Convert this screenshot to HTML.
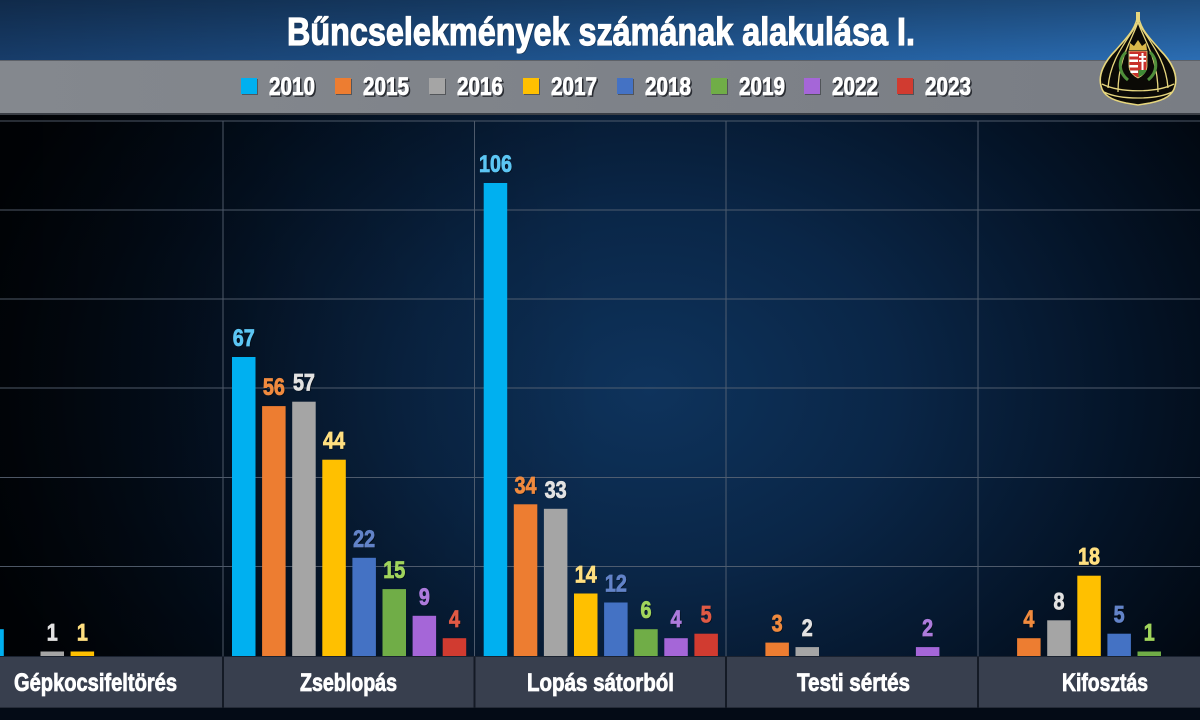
<!DOCTYPE html>
<html>
<head>
<meta charset="utf-8">
<style>
html,body{margin:0;padding:0;background:#020710;}
svg{display:block;}
text{font-family:"Liberation Sans",sans-serif;font-weight:bold;}
</style>
</head>
<body>
<svg width="1200" height="720" viewBox="0 0 1200 720" xmlns="http://www.w3.org/2000/svg">
<defs>
  <radialGradient id="bg" gradientUnits="userSpaceOnUse" cx="650" cy="390" r="700" gradientTransform="translate(650 390) scale(1 0.75) translate(-650 -390)">
    <stop offset="0" stop-color="#0e335c"/>
    <stop offset="0.35" stop-color="#0a2647"/>
    <stop offset="0.7" stop-color="#041326"/>
    <stop offset="1" stop-color="#01050b"/>
  </radialGradient>
  <linearGradient id="leftdark" x1="0" y1="0" x2="1" y2="0">
    <stop offset="0" stop-color="#000" stop-opacity="0.55"/>
    <stop offset="0.25" stop-color="#000" stop-opacity="0.2"/>
    <stop offset="0.5" stop-color="#000" stop-opacity="0"/>
  </linearGradient>
  <linearGradient id="titleH" x1="0" y1="0" x2="1" y2="0">
    <stop offset="0" stop-color="#173c69"/>
    <stop offset="0.5" stop-color="#1f5590"/>
    <stop offset="1" stop-color="#2b6db3"/>
  </linearGradient>
  <linearGradient id="titleV" x1="0" y1="0" x2="0" y2="1">
    <stop offset="0" stop-color="#000" stop-opacity="0.3"/>
    <stop offset="1" stop-color="#000" stop-opacity="0"/>
  </linearGradient>
  <linearGradient id="legendG" x1="0" y1="0" x2="1" y2="0">
    <stop offset="0" stop-color="#84888e"/>
    <stop offset="1" stop-color="#797d84"/>
  </linearGradient>
</defs>

<!-- background -->
<rect x="0" y="0" width="1200" height="720" fill="url(#bg)"/>
<rect x="0" y="114" width="1200" height="606" fill="url(#leftdark)"/>

<!-- title bar -->
<rect x="0" y="0" width="1200" height="60" fill="url(#titleH)"/>
<rect x="0" y="0" width="1200" height="60" fill="url(#titleV)"/>
<text x="288" y="46" font-size="39" fill="#000" fill-opacity="0.4" textLength="628" lengthAdjust="spacingAndGlyphs">Bűncselekmények  számának alakulása  I.</text>
<text x="287" y="45" font-size="39" fill="#ffffff" stroke="#ffffff" stroke-width="1.2" textLength="628" lengthAdjust="spacingAndGlyphs">Bűncselekmények  számának alakulása  I.</text>

<!-- legend bar -->
<rect x="0" y="60" width="1200" height="54" fill="url(#legendG)"/>
<rect x="0" y="60" width="1200" height="1" fill="#5d6168"/>
<rect x="0" y="113" width="1200" height="2" fill="#3a3e45"/>

<g>
  <rect x="242" y="79" width="16" height="16" fill="#000" opacity="0.35"/>
  <rect x="241" y="78" width="16" height="16" fill="#00b0f0"/>
  <rect x="336" y="79" width="16" height="16" fill="#000" opacity="0.35"/>
  <rect x="335" y="78" width="16" height="16" fill="#ed7d31"/>
  <rect x="430" y="79" width="16" height="16" fill="#000" opacity="0.35"/>
  <rect x="429" y="78" width="16" height="16" fill="#a5a5a5"/>
  <rect x="524" y="79" width="16" height="16" fill="#000" opacity="0.35"/>
  <rect x="523" y="78" width="16" height="16" fill="#ffc000"/>
  <rect x="618" y="79" width="16" height="16" fill="#000" opacity="0.35"/>
  <rect x="617" y="78" width="16" height="16" fill="#4472c4"/>
  <rect x="712" y="79" width="16" height="16" fill="#000" opacity="0.35"/>
  <rect x="711" y="78" width="16" height="16" fill="#70ad47"/>
  <rect x="805" y="79" width="16" height="16" fill="#000" opacity="0.35"/>
  <rect x="804" y="78" width="16" height="16" fill="#a566d8"/>
  <rect x="898" y="79" width="16" height="16" fill="#000" opacity="0.35"/>
  <rect x="897" y="78" width="16" height="16" fill="#d13b30"/>
</g>
<g font-size="25" fill="#2a2d33" stroke="#2a2d33" stroke-width="0.8">
  <text x="270.5" y="96.5" textLength="46" lengthAdjust="spacingAndGlyphs">2010</text>
  <text x="364.5" y="96.5" textLength="46" lengthAdjust="spacingAndGlyphs">2015</text>
  <text x="458.5" y="96.5" textLength="46" lengthAdjust="spacingAndGlyphs">2016</text>
  <text x="552.5" y="96.5" textLength="46" lengthAdjust="spacingAndGlyphs">2017</text>
  <text x="646.5" y="96.5" textLength="46" lengthAdjust="spacingAndGlyphs">2018</text>
  <text x="740.5" y="96.5" textLength="46" lengthAdjust="spacingAndGlyphs">2019</text>
  <text x="833.5" y="96.5" textLength="46" lengthAdjust="spacingAndGlyphs">2022</text>
  <text x="926.5" y="96.5" textLength="46" lengthAdjust="spacingAndGlyphs">2023</text>
</g>
<g font-size="25" fill="#ffffff" stroke="#ffffff" stroke-width="0.8">
  <text x="269" y="95" textLength="46" lengthAdjust="spacingAndGlyphs">2010</text>
  <text x="363" y="95" textLength="46" lengthAdjust="spacingAndGlyphs">2015</text>
  <text x="457" y="95" textLength="46" lengthAdjust="spacingAndGlyphs">2016</text>
  <text x="551" y="95" textLength="46" lengthAdjust="spacingAndGlyphs">2017</text>
  <text x="645" y="95" textLength="46" lengthAdjust="spacingAndGlyphs">2018</text>
  <text x="739" y="95" textLength="46" lengthAdjust="spacingAndGlyphs">2019</text>
  <text x="832" y="95" textLength="46" lengthAdjust="spacingAndGlyphs">2022</text>
  <text x="925" y="95" textLength="46" lengthAdjust="spacingAndGlyphs">2023</text>
</g>

<!-- emblem -->
<g>
  <path d="M1138,14 C1140,30 1150,38 1160,50 C1172,62 1178,75 1175,86 C1173,95 1165,100 1150,103 L1138,105 L1126,103 C1111,100 1103,95 1101,86 C1098,75 1104,62 1116,50 C1126,38 1136,30 1138,14 Z" fill="#0b0a06" stroke="#e6d67e" stroke-width="1.6"/>
  <rect x="1136" y="12" width="4" height="10" fill="#e6d67e"/>
  <g fill="none" stroke="#e6d67e" stroke-width="1.3">
    <path d="M1138,22 C1128,40 1110,58 1108,88"/>
    <path d="M1138,22 C1148,40 1166,58 1168,88"/>
    <path d="M1138,22 C1132,40 1118,58 1118,92"/>
    <path d="M1138,22 C1144,40 1158,58 1158,92"/>
    <path d="M1102,84 C1120,93 1156,93 1174,84"/>
    <path d="M1104,92 C1120,100 1156,100 1172,92"/>
  </g>
  <path d="M1126,52 C1118,60 1118,72 1128,80" fill="none" stroke="#4f8f3a" stroke-width="3"/>
  <path d="M1150,52 C1158,60 1158,72 1148,80" fill="none" stroke="#4f8f3a" stroke-width="3"/>
  <path d="M1129,50 L1130,43 L1134,46 L1138,40 L1142,46 L1146,43 L1147,50 Z" fill="#d9b84a"/>
  <path d="M1129,51 L1147,51 L1147,66 C1147,72 1142,76 1138,78 C1134,76 1129,72 1129,66 Z" fill="#c8302c" stroke="#e6d67e" stroke-width="0.8"/>
  <rect x="1129.5" y="54" width="8.5" height="2.5" fill="#fff"/>
  <rect x="1129.5" y="59.5" width="8.5" height="2.5" fill="#fff"/>
  <rect x="1129.5" y="65" width="8.5" height="2.5" fill="#fff"/>
  <rect x="1130.5" y="70.5" width="7.5" height="2.5" fill="#fff"/>
  <rect x="1141.5" y="53" width="2" height="17" fill="#fff"/>
  <rect x="1139" y="56" width="7" height="1.8" fill="#fff"/>
  <rect x="1139" y="60" width="7" height="1.8" fill="#fff"/>
  <path d="M1138.5,70 L1146.5,70 C1146,73 1142,76 1138.5,77 Z" fill="#3f8a36"/>
</g>

<!-- grid lines -->
<g stroke="#5b6676" stroke-width="1" opacity="0.85">
  <line x1="0" y1="121" x2="1200" y2="121"/>
  <line x1="0" y1="210" x2="1200" y2="210"/>
  <line x1="0" y1="299" x2="1200" y2="299"/>
  <line x1="0" y1="388" x2="1200" y2="388"/>
  <line x1="0" y1="477.5" x2="1200" y2="477.5"/>
  <line x1="0" y1="566.5" x2="1200" y2="566.5"/>
  <line x1="223" y1="121" x2="223" y2="656"/>
  <line x1="474.5" y1="121" x2="474.5" y2="656"/>
  <line x1="726" y1="121" x2="726" y2="656"/>
  <line x1="978" y1="121" x2="978" y2="656"/>
</g>

<!-- bars -->
<g>
  <rect x="-19.7" y="629.2" width="23.5" height="26.8" fill="#00b0f0"/>
  <rect x="40.5" y="651.5" width="23.5" height="4.5" fill="#a5a5a5"/>
  <rect x="70.6" y="651.5" width="23.5" height="4.5" fill="#ffc000"/>
  <rect x="232" y="357" width="23.5" height="299" fill="#00b0f0"/>
  <rect x="262.1" y="406.1" width="23.5" height="249.9" fill="#ed7d31"/>
  <rect x="292.2" y="401.7" width="23.5" height="254.3" fill="#a5a5a5"/>
  <rect x="322.3" y="459.7" width="23.5" height="196.3" fill="#ffc000"/>
  <rect x="352.4" y="557.8" width="23.5" height="98.2" fill="#4472c4"/>
  <rect x="382.5" y="589.1" width="23.5" height="66.9" fill="#70ad47"/>
  <rect x="412.6" y="615.8" width="23.5" height="40.2" fill="#a566d8"/>
  <rect x="442.7" y="638.2" width="23.5" height="17.8" fill="#d13b30"/>
  <rect x="483.7" y="183" width="23.5" height="473" fill="#00b0f0"/>
  <rect x="513.8" y="504.3" width="23.5" height="151.7" fill="#ed7d31"/>
  <rect x="543.9" y="508.8" width="23.5" height="147.2" fill="#a5a5a5"/>
  <rect x="574" y="593.5" width="23.5" height="62.5" fill="#ffc000"/>
  <rect x="604.1" y="602.5" width="23.5" height="53.5" fill="#4472c4"/>
  <rect x="634.2" y="629.2" width="23.5" height="26.8" fill="#70ad47"/>
  <rect x="664.3" y="638.2" width="23.5" height="17.8" fill="#a566d8"/>
  <rect x="694.4" y="633.7" width="23.5" height="22.3" fill="#d13b30"/>
  <rect x="765.4" y="642.6" width="23.5" height="13.4" fill="#ed7d31"/>
  <rect x="795.5" y="647.1" width="23.5" height="8.9" fill="#a5a5a5"/>
  <rect x="915.9" y="647.1" width="23.5" height="8.9" fill="#a566d8"/>
  <rect x="1017.1" y="638.2" width="23.5" height="17.8" fill="#ed7d31"/>
  <rect x="1047.2" y="620.3" width="23.5" height="35.7" fill="#a5a5a5"/>
  <rect x="1077.3" y="575.7" width="23.5" height="80.3" fill="#ffc000"/>
  <rect x="1107.4" y="633.7" width="23.5" height="22.3" fill="#4472c4"/>
  <rect x="1137.5" y="651.5" width="23.5" height="4.5" fill="#70ad47"/>
</g>

<!-- value labels shadow -->
<g font-size="24" fill="#000" fill-opacity="0.5" text-anchor="middle" transform="translate(1,1)">
  <text x="52.25" y="640.5" textLength="11" lengthAdjust="spacingAndGlyphs">1</text>
  <text x="82.35" y="640.5" textLength="11" lengthAdjust="spacingAndGlyphs">1</text>
  <text x="243.75" y="346" textLength="22" lengthAdjust="spacingAndGlyphs">67</text>
  <text x="273.85" y="395.1" textLength="22" lengthAdjust="spacingAndGlyphs">56</text>
  <text x="303.95" y="390.7" textLength="22" lengthAdjust="spacingAndGlyphs">57</text>
  <text x="334.05" y="448.7" textLength="22" lengthAdjust="spacingAndGlyphs">44</text>
  <text x="364.15" y="546.8" textLength="22" lengthAdjust="spacingAndGlyphs">22</text>
  <text x="394.25" y="578.1" textLength="22" lengthAdjust="spacingAndGlyphs">15</text>
  <text x="424.35" y="604.8" textLength="11" lengthAdjust="spacingAndGlyphs">9</text>
  <text x="454.45" y="627.2" textLength="11" lengthAdjust="spacingAndGlyphs">4</text>
  <text x="495.45" y="172" textLength="33" lengthAdjust="spacingAndGlyphs">106</text>
  <text x="525.55" y="493.3" textLength="22" lengthAdjust="spacingAndGlyphs">34</text>
  <text x="555.65" y="497.8" textLength="22" lengthAdjust="spacingAndGlyphs">33</text>
  <text x="585.75" y="582.5" textLength="22" lengthAdjust="spacingAndGlyphs">14</text>
  <text x="615.85" y="591.5" textLength="22" lengthAdjust="spacingAndGlyphs">12</text>
  <text x="645.95" y="618.2" textLength="11" lengthAdjust="spacingAndGlyphs">6</text>
  <text x="676.05" y="627.2" textLength="11" lengthAdjust="spacingAndGlyphs">4</text>
  <text x="706.15" y="622.7" textLength="11" lengthAdjust="spacingAndGlyphs">5</text>
  <text x="777.15" y="631.6" textLength="11" lengthAdjust="spacingAndGlyphs">3</text>
  <text x="807.25" y="636.1" textLength="11" lengthAdjust="spacingAndGlyphs">2</text>
  <text x="927.65" y="636.1" textLength="11" lengthAdjust="spacingAndGlyphs">2</text>
  <text x="1028.85" y="627.2" textLength="11" lengthAdjust="spacingAndGlyphs">4</text>
  <text x="1058.95" y="609.3" textLength="11" lengthAdjust="spacingAndGlyphs">8</text>
  <text x="1089.05" y="564.7" textLength="22" lengthAdjust="spacingAndGlyphs">18</text>
  <text x="1119.15" y="622.7" textLength="11" lengthAdjust="spacingAndGlyphs">5</text>
  <text x="1149.25" y="640.5" textLength="11" lengthAdjust="spacingAndGlyphs">1</text>
</g>

<!-- value labels -->
<g font-size="24" text-anchor="middle" stroke-width="0.8">
  <text x="52.25" y="640.5" fill="#e2e2e2" stroke="#e2e2e2" textLength="11" lengthAdjust="spacingAndGlyphs">1</text>
  <text x="82.35" y="640.5" fill="#ffdf80" stroke="#ffdf80" textLength="11" lengthAdjust="spacingAndGlyphs">1</text>
  <text x="243.75" y="346" fill="#5cc6f4" stroke="#5cc6f4" textLength="22" lengthAdjust="spacingAndGlyphs">67</text>
  <text x="273.85" y="395.1" fill="#f08a3e" stroke="#f08a3e" textLength="22" lengthAdjust="spacingAndGlyphs">56</text>
  <text x="303.95" y="390.7" fill="#e2e2e2" stroke="#e2e2e2" textLength="22" lengthAdjust="spacingAndGlyphs">57</text>
  <text x="334.05" y="448.7" fill="#ffdf80" stroke="#ffdf80" textLength="22" lengthAdjust="spacingAndGlyphs">44</text>
  <text x="364.15" y="546.8" fill="#6283c8" stroke="#6283c8" textLength="22" lengthAdjust="spacingAndGlyphs">22</text>
  <text x="394.25" y="578.1" fill="#a0d45c" stroke="#a0d45c" textLength="22" lengthAdjust="spacingAndGlyphs">15</text>
  <text x="424.35" y="604.8" fill="#ad7bdc" stroke="#ad7bdc" textLength="11" lengthAdjust="spacingAndGlyphs">9</text>
  <text x="454.45" y="627.2" fill="#e05a45" stroke="#e05a45" textLength="11" lengthAdjust="spacingAndGlyphs">4</text>
  <text x="495.45" y="172" fill="#5cc6f4" stroke="#5cc6f4" textLength="33" lengthAdjust="spacingAndGlyphs">106</text>
  <text x="525.55" y="493.3" fill="#f08a3e" stroke="#f08a3e" textLength="22" lengthAdjust="spacingAndGlyphs">34</text>
  <text x="555.65" y="497.8" fill="#e2e2e2" stroke="#e2e2e2" textLength="22" lengthAdjust="spacingAndGlyphs">33</text>
  <text x="585.75" y="582.5" fill="#ffdf80" stroke="#ffdf80" textLength="22" lengthAdjust="spacingAndGlyphs">14</text>
  <text x="615.85" y="591.5" fill="#6283c8" stroke="#6283c8" textLength="22" lengthAdjust="spacingAndGlyphs">12</text>
  <text x="645.95" y="618.2" fill="#a0d45c" stroke="#a0d45c" textLength="11" lengthAdjust="spacingAndGlyphs">6</text>
  <text x="676.05" y="627.2" fill="#ad7bdc" stroke="#ad7bdc" textLength="11" lengthAdjust="spacingAndGlyphs">4</text>
  <text x="706.15" y="622.7" fill="#e05a45" stroke="#e05a45" textLength="11" lengthAdjust="spacingAndGlyphs">5</text>
  <text x="777.15" y="631.6" fill="#f08a3e" stroke="#f08a3e" textLength="11" lengthAdjust="spacingAndGlyphs">3</text>
  <text x="807.25" y="636.1" fill="#e2e2e2" stroke="#e2e2e2" textLength="11" lengthAdjust="spacingAndGlyphs">2</text>
  <text x="927.65" y="636.1" fill="#ad7bdc" stroke="#ad7bdc" textLength="11" lengthAdjust="spacingAndGlyphs">2</text>
  <text x="1028.85" y="627.2" fill="#f08a3e" stroke="#f08a3e" textLength="11" lengthAdjust="spacingAndGlyphs">4</text>
  <text x="1058.95" y="609.3" fill="#e2e2e2" stroke="#e2e2e2" textLength="11" lengthAdjust="spacingAndGlyphs">8</text>
  <text x="1089.05" y="564.7" fill="#ffdf80" stroke="#ffdf80" textLength="22" lengthAdjust="spacingAndGlyphs">18</text>
  <text x="1119.15" y="622.7" fill="#6283c8" stroke="#6283c8" textLength="11" lengthAdjust="spacingAndGlyphs">5</text>
  <text x="1149.25" y="640.5" fill="#a0d45c" stroke="#a0d45c" textLength="11" lengthAdjust="spacingAndGlyphs">1</text>
</g>

<!-- category bar -->
<rect x="0" y="656" width="1200" height="1.5" fill="#1a2230"/>
<rect x="0" y="657" width="1200" height="51" fill="#383f4e"/>
<rect x="0" y="707" width="1200" height="1" fill="#262c38"/>
<g fill="#141a25">
  <rect x="222" y="657" width="2" height="51"/>
  <rect x="473.5" y="657" width="2" height="51"/>
  <rect x="725" y="657" width="2" height="51"/>
  <rect x="977" y="657" width="2" height="51"/>
</g>
<rect x="0" y="708" width="1200" height="12" fill="#040b16"/>
<g font-size="25" fill="#ffffff" stroke="#ffffff" stroke-width="0.8">
  <text x="14" y="691" textLength="163" lengthAdjust="spacingAndGlyphs">Gépkocsifeltörés</text>
  <text x="300" y="691" textLength="97" lengthAdjust="spacingAndGlyphs">Zseblopás</text>
  <text x="527" y="691" textLength="147" lengthAdjust="spacingAndGlyphs">Lopás  sátorból</text>
  <text x="797" y="691" textLength="113" lengthAdjust="spacingAndGlyphs">Testi sértés</text>
  <text x="1062" y="691" textLength="86" lengthAdjust="spacingAndGlyphs">Kifosztás</text>
</g>
</svg>
</body>
</html>
